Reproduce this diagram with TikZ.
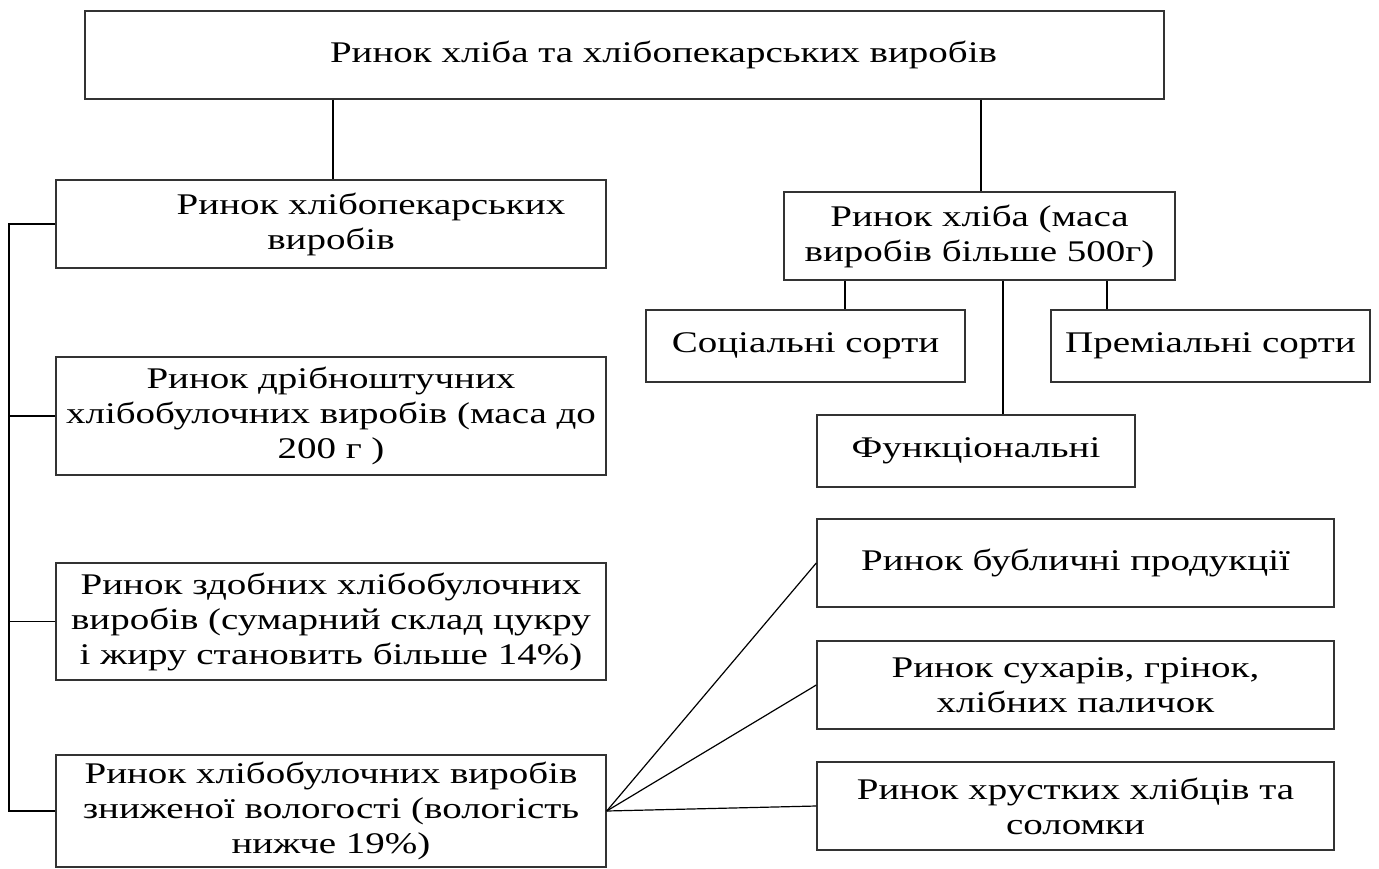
\documentclass[tikz,border=0pt]{standalone}
\usepackage{fontspec}
\setmainfont{Liberation Serif}[FakeStretch=1.3]
\usepackage{tikz}

\begin{document}
\begin{tikzpicture}[x=1pt,y=-1pt]
        \useasboundingbox (0,0) rectangle (1379,868);
        \tikzstyle{every node} = [rectangle, draw=black!80, line width=1.4pt, inner sep=0pt,
                align=center, font=\fontsize{30pt}{35pt}\selectfont]
        \tikzstyle{link} = [line width=1.2pt]
        % top level
        \node[minimum width=1079pt, minimum height=88pt] (all) at (624.5,55)
                {\hspace*{78pt}Ринок хліба та хлібопекарських виробів};
        \node[minimum width=550pt, minimum height=88pt] (bakery) at (331,224)
                {\hspace*{80pt}Ринок хлібопекарських\\виробів};
        \node[minimum width=391pt, minimum height=88pt] (bread) at (979.5,236)
                {Ринок хліба (маса\\виробів більше 500г)};
        % bread sorts
        \node[minimum width=319pt, minimum height=72pt] (social) at (805.5,346) {Соціальні сорти};
        \node[minimum width=319pt, minimum height=72pt] (premium) at (1210.5,346) {Преміальні сорти};
        \node[minimum width=318pt, minimum height=72pt] (func) at (976,451) {Функціональні};
        % bakery products
        \node[minimum width=550pt, minimum height=118pt] (small) at (331,416)
                {Ринок дрібноштучних\\хлібобулочних виробів (маса до\\200 г )};
        \node[minimum width=550pt, minimum height=117pt] (rich) at (331,621.5)
                {Ринок здобних хлібобулочних\\виробів (сумарний склад цукру\\і жиру становить більше 14\%)};
        \node[minimum width=550pt, minimum height=112pt] (dry) at (331,811)
                {Ринок хлібобулочних виробів\\зниженої вологості (вологість\\нижче 19\%)};
        % low moisture products
        \node[minimum width=517pt, minimum height=88pt] (bagel) at (1075.5,563) {Ринок бубличні продукції};
        \node[minimum width=517pt, minimum height=88pt] (rusk) at (1075.5,685)
                {Ринок сухарів, грінок,\\хлібних паличок};
        \node[minimum width=517pt, minimum height=88pt] (crisp) at (1075.5,806)
                {Ринок хрустких хлібців та\\соломки};
        \coordinate (bus) at (9,224);
        \draw[link] ([xshift=2pt]bakery.north |- all.south) -- ([xshift=2pt]bakery.north);
        \draw[link] ([xshift=1.5pt]bread.north |- all.south) -- ([xshift=1.5pt]bread.north);
        \draw[link] ([xshift=39.5pt]social.north) -- ([xshift=39.5pt]social.north |- bread.south);
        \draw[link] ([xshift=27pt]func.north) -- ([xshift=27pt]func.north |- bread.south);
        \draw[link] ([xshift=-103.5pt]premium.north) -- ([xshift=-103.5pt]premium.north |- bread.south);
        \draw[link] (bakery.west) -- (bus) -- (bus |- dry.west) -- (dry.west);
        \foreach \from in {small, rich}
            \draw[link] (\from.west) -- (bus |- \from.west);
        \foreach \to in {bagel, rusk, crisp}
            \draw[link] (dry.east) -- (\to.west);
    \end{tikzpicture}
\end{document}
